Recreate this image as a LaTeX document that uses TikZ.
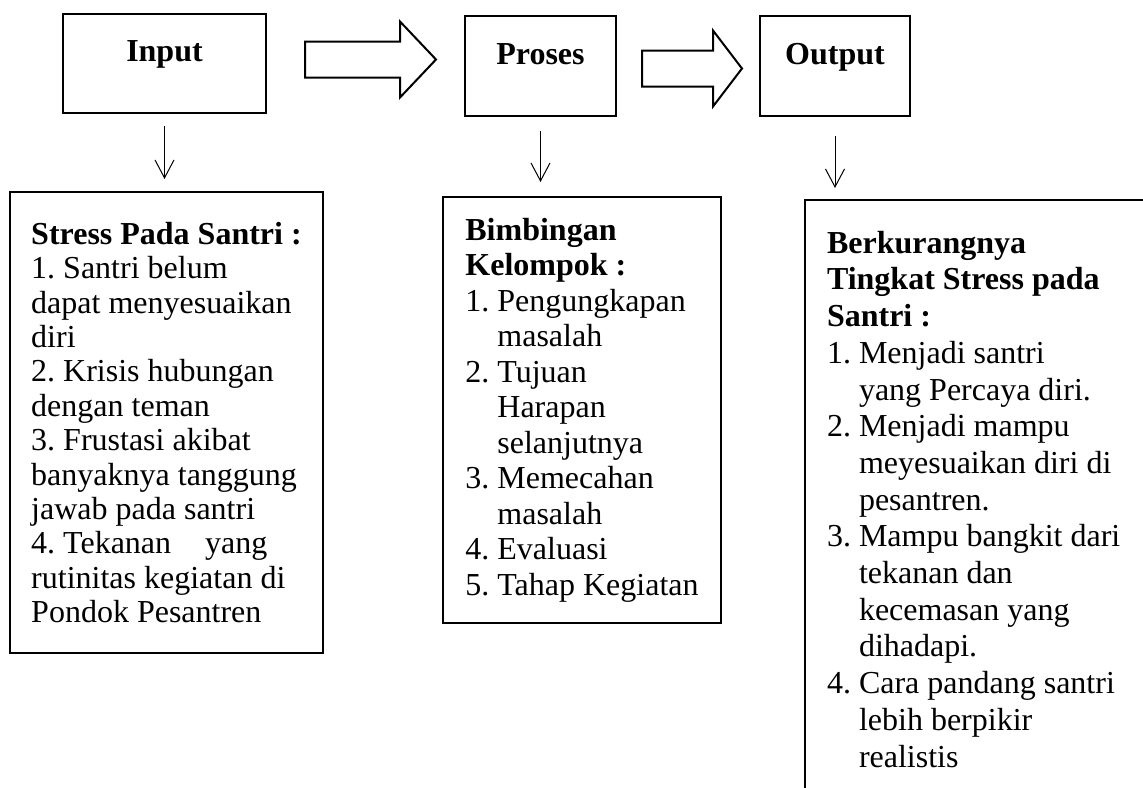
\documentclass[tikz,border=0pt]{standalone}
\usepackage{fontspec}
\setmainfont{Liberation Serif}
\usetikzlibrary{arrows.meta}
\frenchspacing
\newcommand{\numindent}{\hspace*{32pt}}
\tikzset{
	headbox/.style={draw, line width=2pt, font=\fontsize{32}{37}\selectfont\bfseries, text height=21pt, text depth=25pt},
	listbox/.style={draw, line width=2pt, align=left, inner xsep=20pt, inner ysep=0pt},
	boxline/.style={line width=2pt},
	blockarrow/.style={draw, line width=2pt, line join=miter},
	downarrow/.style={-{Straight Barb[length=18pt,width=19pt]}, line width=1pt},
}
\begin{document}
\begin{tikzpicture}[x=1pt,y=-1pt]
			\useasboundingbox (0,0) rectangle (1143,787);
			\node[headbox, minimum width=203pt, minimum height=99pt]  (input)  at (164.5,63.5)	{Input};
			\node[headbox, minimum width=151pt, minimum height=100pt] (proses) at (540.5,66)	{Proses};
			\node[headbox, minimum width=150pt, minimum height=100pt] (output) at (835,66)	{Output};
			%
			\node[listbox, font=\fontsize{32}{34.4}\selectfont, minimum width=313pt, minimum height=461pt] (stress) at (166.5,422.5)
				{\textbf{Stress Pada Santri :}\\1. Santri belum\\dapat menyesuaikan\\diri\\2. Krisis hubungan\\dengan teman\\3. Frustasi akibat\\banyaknya tanggung\\jawab pada santri\\4. Tekanan\hspace*{34pt}yang\\rutinitas kegiatan di\\Pondok Pesantren};
			\node[listbox, font=\fontsize{32}{35.5}\selectfont, minimum width=278pt, minimum height=426pt] (bimbingan) at (582,410)
				{\textbf{Bimbingan}\\\textbf{Kelompok :}\\1. Pengungkapan\\\numindent masalah\\2. Tujuan\\\numindent Harapan\\\numindent selanjutnya\\3. Memecahan\\\numindent masalah\\4. Evaluasi\\5. Tahap Kegiatan};
			\node[listbox, draw=none, font=\fontsize{32}{36.7}\selectfont, inner xsep=21pt, inner ysep=30pt, anchor=north west] (berkurang) at (805,200)
				{\textbf{Berkurangnya}\\\textbf{Tingkat Stress pada}\\\textbf{Santri :}\\1. Menjadi santri\\\numindent yang Percaya diri.\\2. Menjadi mampu\\\numindent meyesuaikan diri di\\\numindent pesantren.\\3. Mampu bangkit dari\\\numindent tekanan dan\\\numindent kecemasan yang\\\numindent dihadapi.\\4. Cara pandang santri\\\numindent lebih berpikir\\\numindent realistis};
			\draw[boxline] (berkurang.north west |- 0,800) -- (berkurang.north west) -- (berkurang.north west -| 1160,0);
			%
			\foreach \sx/\sy/\shaft/\tip in {305/59.5/400/436, 642/68.5/713/742}
			{	\draw[blockarrow] (\sx,\sy-18) -- (\shaft,\sy-18) -- (\shaft,\sy-38) -- (\tip,\sy) -- (\shaft,\sy+38) -- (\shaft,\sy+18) -- (\sx,\sy+18) -- cycle;
			}
			\foreach \u/\v/\a/\b in {input/stress/12/12, proses/bimbingan/14/14, output/berkurang/19/12}
			{	\draw[downarrow, shorten <=\a pt, shorten >=\b pt] (\u.south) -- (\u.south |- \v.north);
			}
			%
\end{tikzpicture}
\end{document}
